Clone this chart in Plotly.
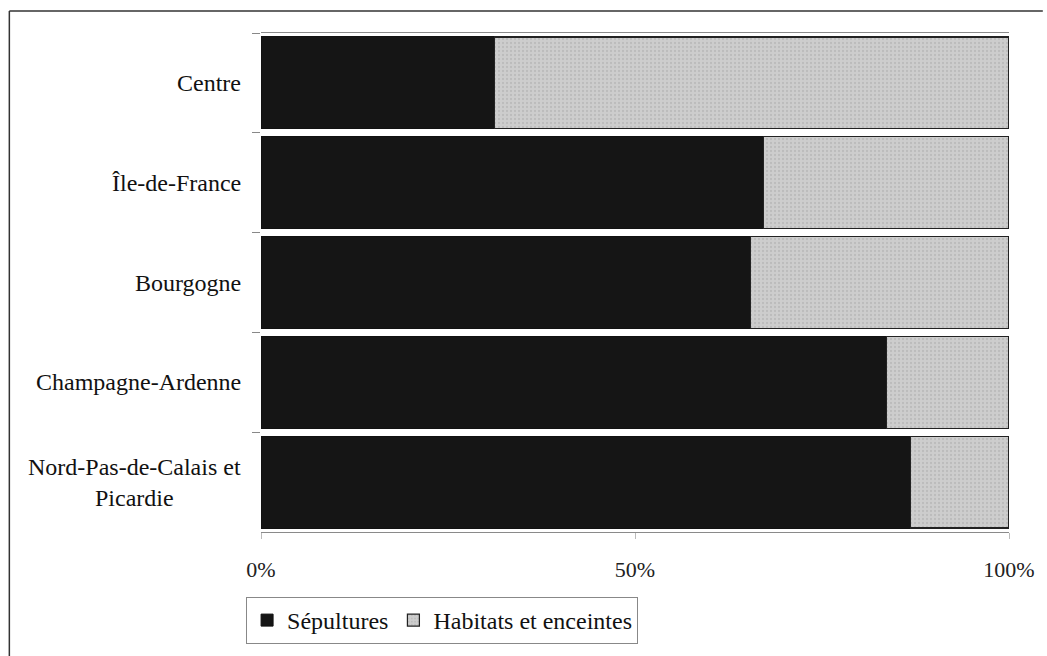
import plotly.graph_objects as go

categories = ["Centre", "Île-de-France", "Bourgogne", "Champagne-Ardenne",
              "Nord-Pas-de-Calais et<br>Picardie"]
sepultures = [31.2, 67.2, 65.4, 83.6, 86.8]
habitats = [round(100 - v, 1) for v in sepultures]
tick_vals = [0, 50, 100]
tick_text = ["0%", "50%", "100%"]

FONT = "Liberation Serif, Times New Roman, serif"

W, H = 1047, 656
L, R, T, B = 261, 34, 33, 124
PW, PH = W - L - R, H - T - B

fig = go.Figure()
fig.add_trace(go.Bar(
    y=categories, x=sepultures, name="Sépultures", orientation="h",
    marker=dict(color="#151515", line=dict(color="#111111", width=1)),
))
fig.add_trace(go.Bar(
    y=categories, x=habitats, name="Habitats et enceintes", orientation="h",
    marker=dict(color="#c9c9c9", line=dict(color="#222222", width=1.2),
                pattern=dict(shape=".", bgcolor="#cdcdcd", fgcolor="#a9a9a9",
                             size=4, solidity=0.25)),
))

for c in categories:
    fig.add_annotation(x=-18 / PW, xref="paper", y=c, yref="y", text=c,
                       showarrow=False, xanchor="right", align="center",
                       font=dict(family=FONT, size=24, color="#111"))

fig.update_layout(
    width=W, height=H,
    barmode="stack", bargap=0.08,
    margin=dict(l=L, r=R, t=T, b=B),
    paper_bgcolor="white", plot_bgcolor="white",
    font=dict(family=FONT, size=22, color="#111"),
    xaxis=dict(range=[0, 100], tickvals=tick_vals, ticktext=tick_text,
               showgrid=False, zeroline=False, showline=True, mirror=True,
               linecolor="#8a8a8a", linewidth=1, ticks="outside", ticklen=6,
               tickcolor="#bbbbbb", ticklabelstandoff=12,
               tickfont=dict(family=FONT, size=22, color="#222")),
    yaxis=dict(autorange="reversed", showticklabels=False, showgrid=False,
               zeroline=False, showline=False, ticks="outside", ticklen=8,
               tickcolor="#888", tickson="boundaries"),
    legend=dict(orientation="h", x=-15 / PW, xanchor="left",
                y=-65 / PH, yanchor="top", bordercolor="#888", borderwidth=1,
                font=dict(family=FONT, size=24, color="#111"),
                traceorder="normal", itemwidth=30),
    showlegend=True,
    shapes=[
        dict(type="line", xref="paper", yref="paper",
             x0=(8 - L) / PW, x1=(W - L) / PW,
             y0=(H - B - 11) / PH, y1=(H - B - 11) / PH,
             line=dict(color="#333", width=1.5)),
        dict(type="line", xref="paper", yref="paper",
             x0=(8 - L) / PW, x1=(8 - L) / PW,
             y0=(H - B - 11) / PH, y1=-B / PH,
             line=dict(color="#333", width=1.5)),
    ],
)

fig.write_html(
    "out.html",
    config={"displayModeBar": False},
    post_script=(
        "var d=document.documentElement, b=document.body;"
        "b.style.margin='0'; b.style.padding='0';"
        "b.style.overflow='hidden'; d.style.overflow='hidden';"
        "b.style.height='656px'; d.style.height='656px';"
    ),
)
